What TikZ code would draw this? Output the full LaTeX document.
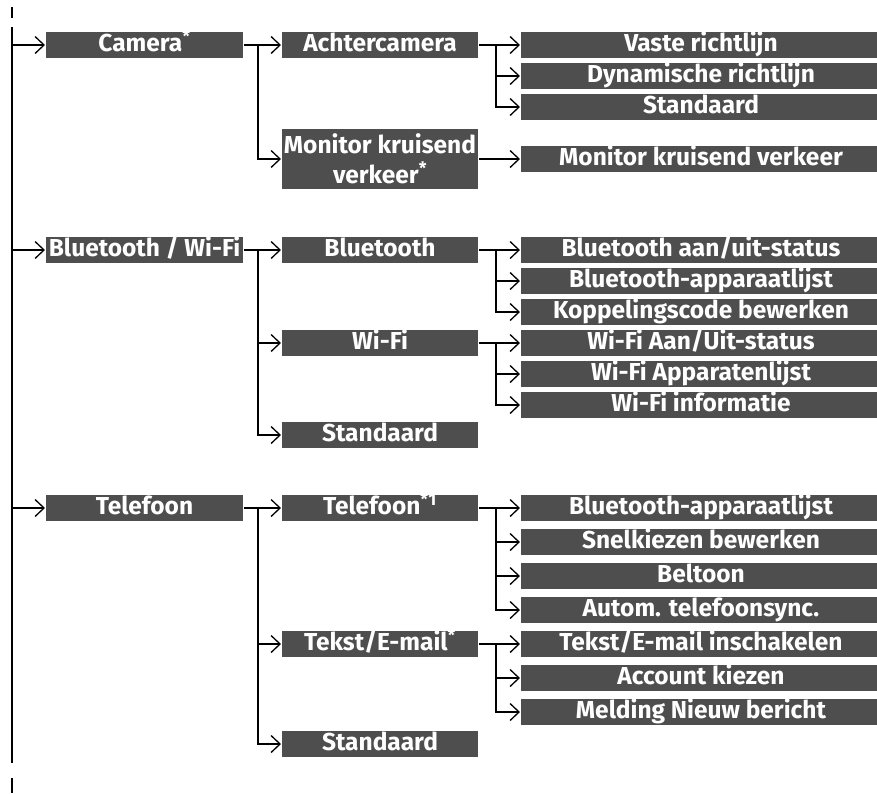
\documentclass[tikz,border=0pt]{standalone}
\usepackage{fontspec}
\setmainfont{Fira Sans}
\usepackage{tikz}
\usetikzlibrary{arrows.meta,positioning,calc}
\definecolor{menugrey}{RGB}{78,78,78}
\newcommand{\optmark}{\textsuperscript{*}}

\begin{document}
\begin{tikzpicture}[
        x=1pt, y=-1pt,
        line width=2pt,
        >={Straight Barb[length=9pt,width=17pt,line width=1.3pt]},
        box/.style={rectangle, fill=menugrey, text=white,
            minimum width=#1,
            minimum height=26pt, inner sep=0pt,
            text height=17.5pt, text depth=4.5pt,
            align=center, font=\bfseries\fontsize{24.5}{30}\selectfont}
    ]
        \useasboundingbox (0,0) rectangle (877,793);
        % trunk
        \coordinate (ttop) at (12,27);
        \coordinate (tbot) at (12,763);
        \coordinate (tk1a) at (12,7);
        \coordinate (tk1b) at (12,18);
        \coordinate (tk2a) at (12,778);
        \coordinate (tk2b) at (12,793);
        \draw (ttop) -- (tbot);
        \draw[line width=1.3pt] (tk1a) -- (tk1b);
        \draw[line width=1.3pt] (tk2a) -- (tk2b);

        % Camera
        \node[box=197pt] (cam) at (144.5,45) {Camera\optmark};
        \node[box=196pt, right=37pt of cam] (ach) {Achtercamera};
        \node[box=360pt, right=41pt of ach] (vas) {Vaste richtlijn};
        \node[box=360pt, below=3pt of vas] (dyn) {Dynamische richtlijn};
        \node[box=360pt, below=3pt of dyn] (sta) {Standaard};
        \node[box=360pt, below=24pt of sta] (mkv) {Monitor kruisend verkeer};
        \node[box=196pt, minimum height=60pt, text height=, text depth=] (mon) at (ach |- mkv) {Monitor kruisend\\verkeer\optmark};

        % Bluetooth / Wi-Fi
        \node[box=197pt] (btw) at (144.5,250) {Bluetooth / Wi-Fi};
        \node[box=196pt] (bt) at (ach |- btw) {Bluetooth};
        \node[box=360pt] (bas) at (vas |- btw) {Bluetooth aan/uit-status};
        \node[box=360pt, below=3pt of bas] (bal) {Bluetooth-apparaatlijst};
        \node[box=360pt, below=3pt of bal] (kcb) {Koppelingscode bewerken};
        \node[box=360pt, below=3pt of kcb] (wfa) {Wi-Fi Aan/Uit-status};
        \node[box=360pt, below=3pt of wfa] (wfl) {Wi-Fi Apparatenlijst};
        \node[box=360pt, below=3pt of wfl] (wfi) {Wi-Fi informatie};
        \node[box=196pt] (wf) at (ach |- wfa) {Wi-Fi};
        \node[box=196pt, below=64pt of wf] (bsd) {Standaard};

        % Telefoon
        \node[box=197pt] (tel) at (144.5,508) {Telefoon};
        \node[box=196pt] (tlf) at (ach |- tel) {Telefoon\textsuperscript{*1}};
        \node[box=360pt] (tbl) at (vas |- tel) {Bluetooth-apparaatlijst};
        \node[box=360pt, below=6pt of tbl] (snk) {Snelkiezen bewerken};
        \node[box=360pt, below=6pt of snk] (bel) {Beltoon};
        \node[box=360pt, below=6pt of bel] (ats) {Autom. telefoonsync.};
        \node[box=360pt, below=6pt of ats] (tei) {Tekst/E-mail inschakelen};
        \node[box=360pt, below=6pt of tei] (ack) {Account kiezen};
        \node[box=360pt, below=6pt of ack] (mnb) {Melding Nieuw bericht};
        \node[box=196pt] (tek) at (ach |- tei) {Tekst/E-mail\optmark};
        \node[box=196pt, below=72pt of tek] (tsd) {Standaard};

        % connectors
        \foreach \n in {cam,btw,tel}
            \draw[->] (ttop |- \n.west) -- (\n.west);
        \draw[->] (cam.east) -- (ach.west);
        \draw[->] ([xshift=14pt]cam.east) |- (mon.west);
        \draw[->] (btw.east) -- (bt.west);
        \foreach \c in {wf,bsd}
            \draw[->] ([xshift=14pt]btw.east) |- (\c.west);
        \draw[->] (tel.east) -- (tlf.west);
        \foreach \c in {tek,tsd}
            \draw[->] ([xshift=14pt]tel.east) |- (\c.west);

        \draw[->] (ach.east) -- (vas.west);
        \foreach \c in {dyn,sta}
            \draw[->] ([xshift=17pt]ach.east) |- (\c.west);
        \draw[->] (mon.east) -- (mkv.west);
        \draw[->] (bt.east) -- (bas.west);
        \foreach \c in {bal,kcb}
            \draw[->] ([xshift=17pt]bt.east) |- (\c.west);
        \draw[->] (wf.east) -- (wfa.west);
        \foreach \c in {wfl,wfi}
            \draw[->] ([xshift=17pt]wf.east) |- (\c.west);
        \draw[->] (tlf.east) -- (tbl.west);
        \foreach \c in {snk,bel,ats}
            \draw[->] ([xshift=17pt]tlf.east) |- (\c.west);
        \draw[->] (tek.east) -- (tei.west);
        \foreach \c in {ack,mnb}
            \draw[->] ([xshift=17pt]tek.east) |- (\c.west);
    \end{tikzpicture}
\end{document}
